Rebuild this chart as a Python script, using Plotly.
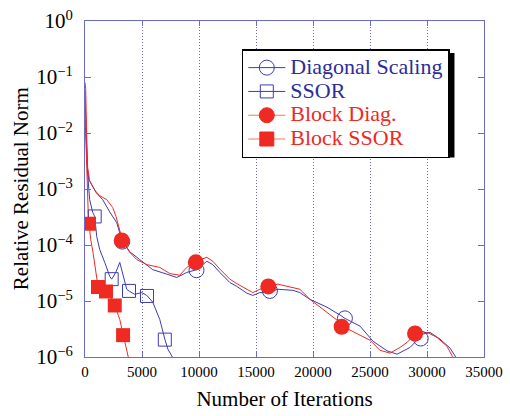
import plotly.graph_objects as go

# ---------------- data ----------------
# Diagonal Scaling (blue line)
diag_x = [0, 60, 240, 350, 1000, 1550, 2170, 2780, 3220, 3920, 4800, 5940, 7170, 8050, 8930,
          9810, 10690, 11210, 11830, 12710, 13320, 14200, 14720, 15340, 16040, 16920, 18240,
          18850, 19730, 21220, 22370, 22800, 24130, 25000, 25270, 26500, 27370, 28510, 29650,
          30260, 31140, 32020, 32460, 32700]
diag_log = [-1.75, -1.80, -2.66, -2.84, -3.07, -3.19, -3.41, -3.60, -3.90, -4.12, -4.26, -4.44,
            -4.52, -4.58, -4.49, -4.44, -4.29, -4.35, -4.49, -4.67, -4.74, -4.86, -4.90, -4.85,
            -4.85, -4.79, -4.81, -4.85, -4.97, -5.11, -5.25, -5.31, -5.45, -5.67, -5.72, -5.89,
            -5.95, -5.83, -5.59, -5.56, -5.68, -5.84, -5.98, -6.10]
diag_mark_x = [3270, 9780, 16220, 22800, 29450]
diag_mark_log = [-3.94, -4.45, -4.82, -5.31, -5.67]

# SSOR (blue line)
ssor_x = [0, 60, 240, 410, 680, 850, 1030, 1290, 1730, 2170, 2340, 2700, 3050, 3310, 3660,
          3920, 4360, 4980, 5420, 5940, 6560, 7000, 7270, 7610, 7790]
ssor_log = [-1.90, -1.95, -2.75, -3.19, -3.42, -3.49, -3.85, -4.08, -4.31, -4.56, -4.61, -4.49,
            -4.31, -4.53, -4.79, -4.83, -4.88, -4.85, -4.90, -5.02, -5.33, -5.68, -5.86, -5.98,
            -6.05]
ssor_mark_x = [850, 2340, 3860, 5440, 7000]
ssor_mark_log = [-3.49, -4.61, -4.82, -4.91, -5.69]

# Block Diag. (red line)
bdiag_x = [0, 60, 210, 410, 850, 1290, 1910, 2430, 2720, 3050, 3300, 3920, 4540, 5420, 6560,
           7440, 8310, 8930, 9720, 10690, 11210, 11830, 12710, 13320, 14200, 14720, 15340,
           16040, 16920, 18240, 18850, 19730, 21220, 22370, 23250, 24130, 25000, 25870, 26750,
           27630, 28250, 28950, 30000, 30880, 31760, 32200, 32400]
bdiag_log = [-1.10, -1.20, -2.60, -2.85, -3.02, -3.12, -3.19, -3.33, -3.49, -3.72, -3.93,
             -4.13, -4.26, -4.35, -4.40, -4.51, -4.54, -4.40, -4.29, -4.22, -4.29, -4.43, -4.61,
             -4.69, -4.79, -4.85, -4.79, -4.74, -4.70, -4.76, -4.79, -4.97, -5.20, -5.38, -5.52,
             -5.61, -5.70, -5.88, -5.93, -5.83, -5.74, -5.59, -5.56, -5.65, -5.81, -5.98, -6.10]
bdiag_mark_x = [3220, 9720, 16080, 22510, 28950]
bdiag_mark_log = [-3.92, -4.31, -4.74, -5.46, -5.58]

# Block SSOR (red line)
bssor_x = [0, 20, 105, 190, 280, 350, 500, 700, 940, 1140, 1550, 1880, 2260, 2610, 3050, 3340,
           3570, 3780, 3840]
bssor_log = [-1.25, -1.32, -2.30, -3.01, -3.41, -3.62, -3.90, -4.13, -4.47, -4.74, -4.83, -4.83,
             -4.93, -5.08, -5.33, -5.61, -5.82, -5.98, -6.04]
bssor_mark_x = [350, 1140, 1840, 2610, 3340]
bssor_mark_log = [-3.62, -4.75, -4.83, -5.08, -5.61]

x_ticks = [0, 5000, 10000, 15000, 20000, 25000, 30000, 35000]
y_exps = [-6, -5, -4, -3, -2, -1, 0]

series_names = ["Diagonal Scaling", "SSOR", "Block Diag.", "Block SSOR"]

# ---------------- styles ----------------
BLUE = "#3c3cb4"
BLUE_TXT = "#2d2d9a"
RED = "#ee2a22"
AXC = "#6a6acc"
FONT = "Liberation Serif"


def p10(v):
    return [10 ** e for e in v]


fig = go.Figure()

# lines
fig.add_trace(go.Scatter(x=diag_x, y=p10(diag_log), mode="lines",
                         line=dict(color=BLUE, width=1), showlegend=False))
fig.add_trace(go.Scatter(x=ssor_x, y=p10(ssor_log), mode="lines",
                         line=dict(color=BLUE, width=1), showlegend=False))
fig.add_trace(go.Scatter(x=bdiag_x, y=p10(bdiag_log), mode="lines",
                         line=dict(color=RED, width=1), showlegend=False))
fig.add_trace(go.Scatter(x=bssor_x, y=p10(bssor_log), mode="lines",
                         line=dict(color=RED, width=1), showlegend=False))

# markers
fig.add_trace(go.Scatter(x=diag_mark_x, y=p10(diag_mark_log), mode="markers",
                         marker=dict(symbol="circle-open", size=15, color=BLUE,
                                     line=dict(width=1, color=BLUE)), showlegend=False))
fig.add_trace(go.Scatter(x=ssor_mark_x, y=p10(ssor_mark_log), mode="markers",
                         marker=dict(symbol="square-open", size=13, color=BLUE,
                                     line=dict(width=1, color=BLUE)), showlegend=False))
fig.add_trace(go.Scatter(x=bdiag_mark_x, y=p10(bdiag_mark_log), mode="markers",
                         marker=dict(symbol="circle", size=16, color=RED,
                                     line=dict(width=0)), showlegend=False))
fig.add_trace(go.Scatter(x=bssor_mark_x, y=p10(bssor_mark_log), mode="markers",
                         marker=dict(symbol="square", size=14, color=RED,
                                     line=dict(width=0)), showlegend=False))

# legend entries
leg_styles = [
    (BLUE, BLUE_TXT, "circle-open", 15),
    (BLUE, BLUE_TXT, "square-open", 13),
    ("#f07a60", RED, "circle", 15),
    ("#f07a60", RED, "square", 14),
]
for name, (lc, tc, sym, sz) in zip(series_names, leg_styles):
    mc = RED if "open" not in sym else BLUE
    fig.add_trace(go.Scatter(
        x=[None], y=[None], mode="lines+markers",
        name=(f'<span style="font-size:22px;font-family:\'Liberation Serif\',serif;'
              f'fill:{tc}">{name}</span>'),
        line=dict(color=lc, width=1),
        marker=dict(symbol=sym, size=sz, color=mc, line=dict(width=1, color=mc))))

# legend drop shadow (decoration, paper coordinates)
fig.add_shape(type="rect", xref="paper", yref="paper", layer="above",
              x0=0.401, x1=0.926, y0=0.594, y1=0.905,
              fillcolor="black", line=dict(width=0))

# y-axis title as a rotated annotation
fig.add_annotation(text="Relative Residual Norm", xref="paper", yref="paper",
                   x=-0.160, y=0.5, xanchor="center", yanchor="middle",
                   textangle=-90, showarrow=False,
                   font=dict(family=FONT, size=21, color="black"))

fig.update_layout(
    width=510, height=416,
    margin=dict(l=85, r=26, t=21, b=59),
    paper_bgcolor="white", plot_bgcolor="white",
    font=dict(family=FONT, color="black"),
    showlegend=True,
    legend=dict(x=0.393, y=0.916, xanchor="left", yanchor="top",
                bgcolor="white", bordercolor="black", borderwidth=1.5,
                font=dict(family=FONT, size=16), itemwidth=37,
                traceorder="normal", tracegroupgap=0),
    xaxis=dict(range=[0, 35000], tickvals=x_ticks, ticktext=[str(v) for v in x_ticks],
               showline=True, linecolor=AXC, linewidth=1, mirror="ticks",
               ticks="inside", ticklen=5, tickcolor=AXC, automargin=False,
               showgrid=True, gridcolor=AXC, griddash="1px,2px", gridwidth=1,
               zeroline=False, tickfont=dict(size=15), ticklabelstandoff=1,
               title=dict(text="Number of Iterations", font=dict(size=21), standoff=12)),
    yaxis=dict(type="log", range=[-6, 0], tickvals=[10 ** e for e in y_exps],
               ticktext=[f"10<sup>{'−' if e < 0 else ''}{abs(e)}</sup>" for e in y_exps],
               showline=True, linecolor=AXC, linewidth=1, mirror="ticks",
               ticks="inside", ticklen=6, tickcolor=AXC, automargin=False,
               showgrid=False, zeroline=False, tickfont=dict(size=21),
               ticklabelstandoff=7),
)

fig.write_html("out.html")
